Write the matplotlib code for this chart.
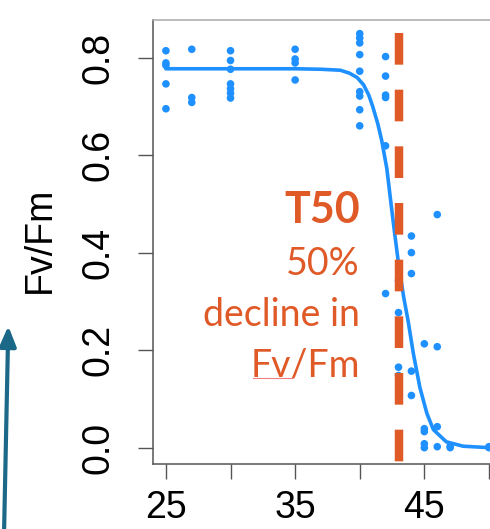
import matplotlib
matplotlib.use("Agg")
import matplotlib.pyplot as plt
from matplotlib.lines import Line2D

# ---------------- data ----------------
temps = [25, 25, 25, 25, 25,
         27, 27, 27,
         30, 30, 30, 30, 30, 30, 30,
         35, 35, 35, 35,
         40, 40, 40, 40, 40, 40, 40, 40, 40,
         42, 42, 42, 42, 42, 42,
         43, 43, 43, 43,
         44, 44, 44, 44, 44,
         45, 45, 45, 45, 45,
         46, 46, 46, 46,
         47, 47,
         50, 50]
fvfm = [0.814, 0.789, 0.784, 0.746, 0.695,
        0.817, 0.718, 0.708,
        0.814, 0.794, 0.776, 0.746, 0.736, 0.727, 0.717,
        0.817, 0.797, 0.789, 0.754,
        0.849, 0.840, 0.830, 0.806, 0.772, 0.730, 0.721, 0.693, 0.660,
        0.802, 0.762, 0.723, 0.718, 0.619, 0.316,
        0.343, 0.277, 0.165, 0.148,
        0.434, 0.400, 0.357, 0.157, 0.107,
        0.213, 0.039, 0.033, 0.008, 0.000,
        0.478, 0.207, 0.043, 0.002,
        0.003, 0.000,
        0.000, 0.002]

# fitted curve
curve_x = [25, 30, 35, 37, 38.5, 39.2, 39.8, 40.3, 40.7, 41.0, 41.4, 41.7,
           42.1, 42.4, 42.7, 43.0, 43.4, 43.75, 44.15, 44.65, 45.2, 45.7,
           46.7, 48.0, 50.0, 51.0]
curve_y = [0.777, 0.777, 0.777, 0.776, 0.774, 0.768, 0.759, 0.744, 0.723,
           0.700, 0.664, 0.630, 0.572, 0.505, 0.440, 0.378, 0.309, 0.259,
           0.193, 0.124, 0.070, 0.037, 0.012, 0.003, 0.000, 0.000]

t50 = 43.06
t50_top = 0.851

x_ticks = [25, 30, 35, 40, 45, 50]
x_tick_labels = ["25", "", "35", "", "45", ""]
y_ticks = [0.0, 0.2, 0.4, 0.6, 0.8]
y_tick_labels = ["0.0", "0.2", "0.4", "0.6", "0.8"]

annot_lines = ["T50", "50%", "decline in", "Fv/Fm"]

# ---------------- styling ----------------
BLUE = "#1E90FF"
RED = "#E05A28"
TEAL = "#1B6888"
GRAY = "#555555"

plt.rcParams["lines.scale_dashes"] = False

W, H = 490, 529
fig = plt.figure(figsize=(W / 100, H / 100), dpi=100)


def fx(px):
    return px / W


def fy(py):
    return 1 - py / H


ax = fig.add_axes([fx(153), fy(464), fx(510) - fx(153), fy(20) - fy(464)])
ax.set_xlim(24.0, 51.63)
ax.set_ylim(-0.0335, 0.877)

# points and fitted curve
ax.scatter(temps, fvfm, s=30, color=BLUE, edgecolors="none", zorder=3)
ax.plot(curve_x, curve_y, color=BLUE, lw=2.6, zorder=3,
        solid_capstyle="round", solid_joinstyle="round")

# T50 dashed line
ax.plot([t50, t50], [t50_top, -0.0335], color=RED, lw=6.1,
        dashes=(22.8, 18.0), dash_capstyle="butt", zorder=4, clip_on=False)

# axes styling
for side, sp in ax.spines.items():
    sp.set_color(GRAY)
    sp.set_linewidth(1.1)
ax.spines["top"].set_color("#aaaaaa")
ax.spines["right"].set_visible(False)

ax.set_xticks(x_ticks)
ax.set_xticklabels(x_tick_labels)
ax.set_yticks(y_ticks)
ax.set_yticklabels(y_tick_labels)
ax.tick_params(axis="both", length=11, width=1.0, color=GRAY,
               labelsize=27, labelcolor="black")
ax.tick_params(axis="x", pad=8)
ax.tick_params(axis="y", pad=15)
for lbl in ax.get_xticklabels() + ax.get_yticklabels():
    lbl.set_fontfamily("Liberation Sans")
for lbl in ax.get_yticklabels():
    lbl.set_rotation(90)
    lbl.set_va("center")

# y label
fig.text(fx(40), fy(240), "Fv/Fm", rotation=90, ha="center", va="center",
         fontsize=27, family="Liberation Sans", color="black")

# annotation text
fig.text(fx(360), fy(223), annot_lines[0], ha="right", va="baseline",
         fontsize=31, fontweight="bold", family="Lato", color=RED)
for txt, base in zip(annot_lines[1:], [275, 326, 377]):
    fig.text(fx(360), fy(base), txt, ha="right", va="baseline",
             fontsize=27, family="Lato", color=RED)
# spell-check underline under "Fv"
fig.add_artist(Line2D([fx(253), fx(292)], [fy(378), fy(378)],
                      color="#F08080", lw=0.8, transform=fig.transFigure))

# arrow at left
ax_arrow = fig.add_axes([0, 0, 1, 1], facecolor="none")
ax_arrow.set_axis_off()
ax_arrow.set_xlim(0, W)
ax_arrow.set_ylim(H, 0)
ax_arrow.annotate("", xy=(8.3, 326), xytext=(3.8, 545),
                  arrowprops=dict(arrowstyle="-|>,head_length=1.2,head_width=0.5",
                                  mutation_scale=10, lw=3.0, color=TEAL,
                                  shrinkA=0, shrinkB=0))

fig.savefig("out.png", dpi=100)
